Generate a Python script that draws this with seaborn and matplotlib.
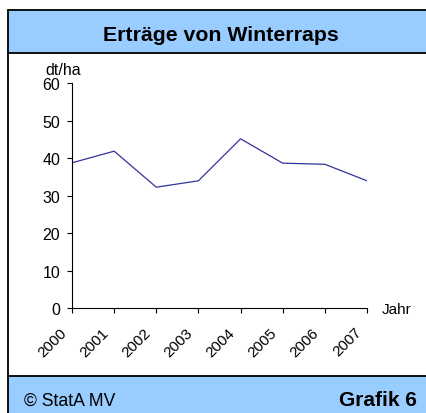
import matplotlib
matplotlib.use("Agg")
import matplotlib.pyplot as plt
import seaborn as sns
import pandas as pd
from matplotlib.patches import Rectangle
from matplotlib.lines import Line2D
from matplotlib.transforms import ScaledTranslation

# Ertraege Winterraps, dt/ha
years = [2000, 2001, 2002, 2003, 2004, 2005, 2006, 2007]
yields = [38.8, 41.9, 32.3, 34.0, 45.2, 38.7, 38.4, 34.0]
yticks = [0, 10, 20, 30, 40, 50, 60]

df = pd.DataFrame({"Jahr": years, "dt/ha": yields})

sns.set_style("white")
plt.rcParams['font.family'] = ['Liberation Sans', 'DejaVu Sans']
plt.rcParams['text.color'] = 'black'
plt.rcParams['xtick.color'] = 'black'
plt.rcParams['ytick.color'] = 'black'

W, H = 427, 414
fig = plt.figure(figsize=(W / 100, H / 100), dpi=100)
fig.patch.set_facecolor('white')

def fx(px):
    return px / W

def fy(py):
    return 1 - py / H

blue = '#99CCFF'
# title band and footer band
fig.patches.append(Rectangle((fx(8), fy(54)), 1, fy(11) - fy(54), transform=fig.transFigure,
                             facecolor=blue, edgecolor='none', zorder=0))
fig.patches.append(Rectangle((fx(8), 0), 1, fy(377), transform=fig.transFigure,
                             facecolor=blue, edgecolor='none', zorder=0))
# frame lines
for y in [11, 54, 377]:
    fig.add_artist(Line2D([fx(8), 1], [fy(y), fy(y)], transform=fig.transFigure, color='black', lw=1.3))
fig.add_artist(Line2D([fx(8), fx(8)], [0, fy(11)], transform=fig.transFigure, color='black', lw=1.3))

fig.text(fx(220.5), fy(41), "Erträge von Winterraps", ha='center', va='baseline',
         fontsize=15.3, fontweight='bold')
fig.text(fx(24), fy(406), "© StatA MV", ha='left', va='baseline', fontsize=12.7)
fig.text(fx(417), fy(406), "Grafik 6", ha='right', va='baseline', fontsize=15, fontweight='bold')

ax = fig.add_axes([fx(72), fy(309.3), fx(367) - fx(72), fy(84.3) - fy(309.3)])
ax.set_facecolor('none')
sns.lineplot(data=df, x="Jahr", y="dt/ha", color='#333399', lw=0.9, ax=ax)

ax.set_xlim(2000, 2007)
ax.set_ylim(0, 60)
ax.set_xticks(years)
ax.set_xticklabels([str(y) for y in years], rotation=45, ha='right', va='center',
                   rotation_mode='anchor', fontsize=11)
ax.set_yticks(yticks)
ax.set_yticklabels([str(v) for v in yticks], fontsize=11.5)
ax.tick_params(axis='both', direction='out', length=3.4, width=0.8, color='black', bottom=True, left=True)
ax.tick_params(axis='x', pad=12)
ax.tick_params(axis='y', pad=5)
for lab in ax.get_xticklabels():
    lab.set_transform(lab.get_transform() + ScaledTranslation(-8 / 100, 0, fig.dpi_scale_trans))
ax.set_xlabel("")
ax.set_ylabel("")
for s in ['top', 'right']:
    ax.spines[s].set_visible(False)
for s in ['left', 'bottom']:
    ax.spines[s].set_color('black')
    ax.spines[s].set_linewidth(0.8)

fig.text(fx(63), fy(75), "dt/ha", ha='center', va='baseline', fontsize=11.5)
fig.text(fx(381.5), fy(310), "Jahr", ha='left', va='center', fontsize=11)

fig.savefig("out.png", dpi=100)
